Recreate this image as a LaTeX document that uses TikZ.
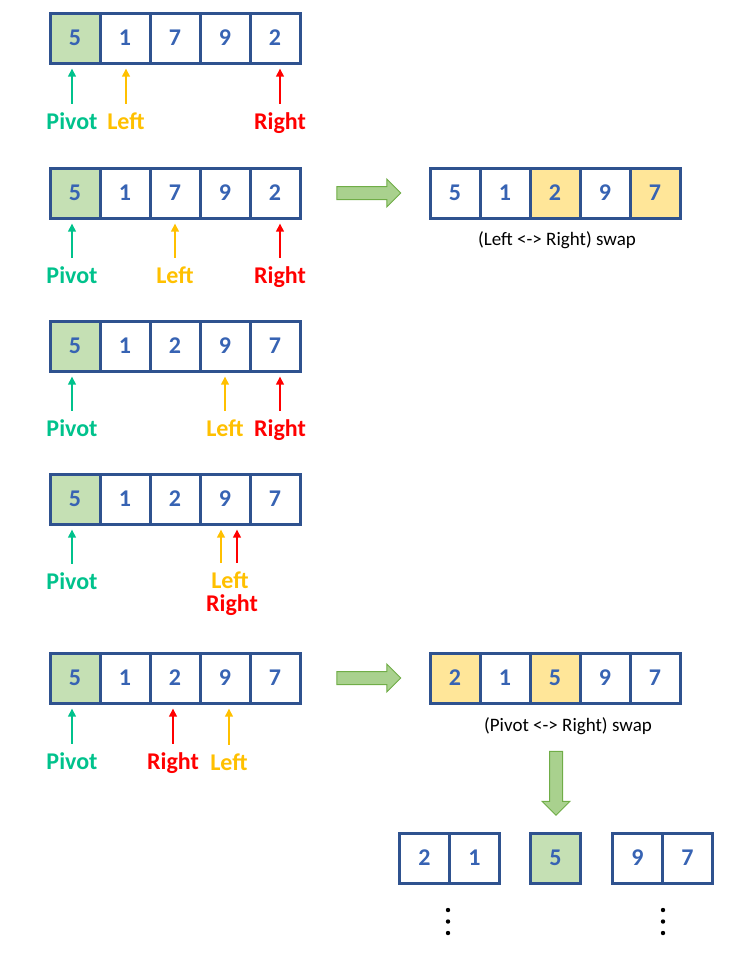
\documentclass[tikz,border=0pt]{standalone}
\usepackage{fontspec}
\setmainfont{Carlito}
\usepackage{xcolor}
\usepackage{tikz}
\usetikzlibrary{positioning}
\usetikzlibrary{arrows.meta}
\usetikzlibrary{shapes.arrows}
\usetikzlibrary{calc}

\definecolor{cellblue}{HTML}{2F528F}
\definecolor{numblue}{HTML}{3763B3}
\definecolor{pivotfill}{HTML}{C5E0B4}
\definecolor{swapfill}{HTML}{FFE699}
\definecolor{pivotc}{HTML}{00C28C}
\definecolor{leftc}{HTML}{FFC000}
\definecolor{rightc}{HTML}{FF0000}
\definecolor{arrfill}{HTML}{A9D18E}
\definecolor{arrdraw}{HTML}{70AD47}

\tikzset{
cell/.style={draw=cellblue, line width=3pt, minimum width=50pt, minimum height=50pt, inner sep=0pt, text=numblue, font=\fontsize{24}{24}\selectfont\bfseries},
pv/.style={cell, fill=pivotfill},
sw/.style={cell, fill=swapfill},
lbl/.style={anchor=base, inner sep=0pt, text height=15pt, text depth=0pt, font=\fontsize{24}{24}\selectfont\bfseries},
ptr/.style={-{Triangle[length=8pt,width=7.5pt]}, line width=2.4pt, shorten <=10pt, shorten >=4pt},
caption/.style={anchor=base, inner sep=0pt, font=\fontsize{19}{19}\selectfont},
bigarrow/.style={single arrow, draw=arrdraw, fill=arrfill, line width=1pt, single arrow head extend=7.5pt, single arrow tip angle=90, minimum height=64pt, inner sep=6pt}
}

\begin{document}
\begin{tikzpicture}[x=1pt, y=-1pt]
\useasboundingbox (0,0) rectangle (750,961);

% row 1
\node[pv] (r1c1) at (75,38) {5};
\node[cell] (r1c2) at (125,38) {1};
\node[cell] (r1c3) at (175,38) {7};
\node[cell] (r1c4) at (225,38) {9};
\node[cell] (r1c5) at (275,38) {2};

\node[lbl, text=pivotc] (pv1) at (72,129) {Pivot};
\node[lbl, text=leftc] (lf1) at (126,129) {Left};
\node[lbl, text=rightc] (rt1) at (280,129) {Right};

\draw[ptr, pivotc] (pv1.north) -- (pv1.north |- r1c1.south);
\draw[ptr, leftc] (lf1.north) -- (lf1.north |- r1c2.south);
\draw[ptr, rightc] (rt1.north) -- (rt1.north |- r1c5.south);

% row 2
\node[pv] (r2c1) at (75,193) {5};
\node[cell] (r2c2) at (125,193) {1};
\node[cell] (r2c3) at (175,193) {7};
\node[cell] (r2c4) at (225,193) {9};
\node[cell] (r2c5) at (275,193) {2};

\node[lbl, text=pivotc] (pv2) at (72,283) {Pivot};
\node[lbl, text=leftc] (lf2) at (175,283) {Left};
\node[lbl, text=rightc] (rt2) at (280,283) {Right};

\draw[ptr, pivotc] (pv2.north) -- (pv2.north |- r2c1.south);
\draw[ptr, leftc] (lf2.north) -- (lf2.north |- r2c3.south);
\draw[ptr, rightc] (rt2.north) -- (rt2.north |- r2c5.south);

\node[bigarrow] (go2) at (365.5,193) {};

\node[cell] (s2c1) at (455,193) {5};
\node[cell] (s2c2) at (505,193) {1};
\node[sw] (s2c3) at (555,193) {2};
\node[cell] (s2c4) at (605,193) {9};
\node[sw] (s2c5) at (655,193) {7};

\node[caption] (cap2) at (557,245) {(Left <-> Right) swap};

% row 3
\node[pv] (r3c1) at (75,346) {5};
\node[cell] (r3c2) at (125,346) {1};
\node[cell] (r3c3) at (175,346) {2};
\node[cell] (r3c4) at (225,346) {9};
\node[cell] (r3c5) at (275,346) {7};

\node[lbl, text=pivotc] (pv3) at (72,436) {Pivot};
\node[lbl, text=leftc] (lf3) at (225,436) {Left};
\node[lbl, text=rightc] (rt3) at (280,436) {Right};

\draw[ptr, pivotc] (pv3.north) -- (pv3.north |- r3c1.south);
\draw[ptr, leftc] (lf3.north) -- (lf3.north |- r3c4.south);
\draw[ptr, rightc] (rt3.north) -- (rt3.north |- r3c5.south);

% row 4
\node[pv] (r4c1) at (75,499) {5};
\node[cell] (r4c2) at (125,499) {1};
\node[cell] (r4c3) at (175,499) {2};
\node[cell] (r4c4) at (225,499) {9};
\node[cell] (r4c5) at (275,499) {7};

\node[lbl, text=pivotc] (pv4) at (72,589) {Pivot};
\node[lbl, text=leftc] (lf4) at (230,588) {Left};
\node[lbl, text=rightc] (rt4) at (232,611) {Right};

\draw[ptr, pivotc] (pv4.north) -- (pv4.north |- r4c1.south);
\draw[ptr, leftc] ([xshift=-9pt]lf4.north) -- ([xshift=-9pt]lf4.north |- r4c4.south);
\draw[ptr, rightc] ([xshift=7pt]lf4.north) -- ([xshift=7pt]lf4.north |- r4c4.south);

% row 5
\node[pv] (r5c1) at (75,678) {5};
\node[cell] (r5c2) at (125,678) {1};
\node[cell] (r5c3) at (175,678) {2};
\node[cell] (r5c4) at (225,678) {9};
\node[cell] (r5c5) at (275,678) {7};

\node[lbl, text=pivotc] (pv5) at (72,769) {Pivot};
\node[lbl, text=rightc] (rt5) at (173,769) {Right};
\node[lbl, text=leftc] (lf5) at (229,770) {Left};

\draw[ptr, pivotc] (pv5.north) -- (pv5.north |- r5c1.south);
\draw[ptr, rightc] (rt5.north) -- (rt5.north |- r5c3.south);
\draw[ptr, leftc] (lf5.north) -- (lf5.north |- r5c4.south);

\node[bigarrow] (go5) at (365.5,678) {};

\node[sw] (s5c1) at (455,678) {2};
\node[cell] (s5c2) at (505,678) {1};
\node[sw] (s5c3) at (555,678) {5};
\node[cell] (s5c4) at (605,678) {9};
\node[cell] (s5c5) at (655,678) {7};

\node[caption] (cap5) at (568,731) {(Pivot <-> Right) swap};

\node[bigarrow, rotate=-90] (down) at (556,780) {};

% split
\node[cell] (lo1) at (424.5,858) {2};
\node[cell] (lo2) at (474.5,858) {1};
\node[pv] (mid) at (555.5,858) {5};
\node[cell] (hi1) at (637.5,858) {9};
\node[cell] (hi2) at (687.5,858) {7};

\fill (448,910) circle (2.2pt);
\fill (448,921.5) circle (2.2pt);
\fill (448,933) circle (2.2pt);
\fill (663,910) circle (2.2pt);
\fill (663,921.5) circle (2.2pt);
\fill (663,933) circle (2.2pt);
\end{tikzpicture}
\end{document}
